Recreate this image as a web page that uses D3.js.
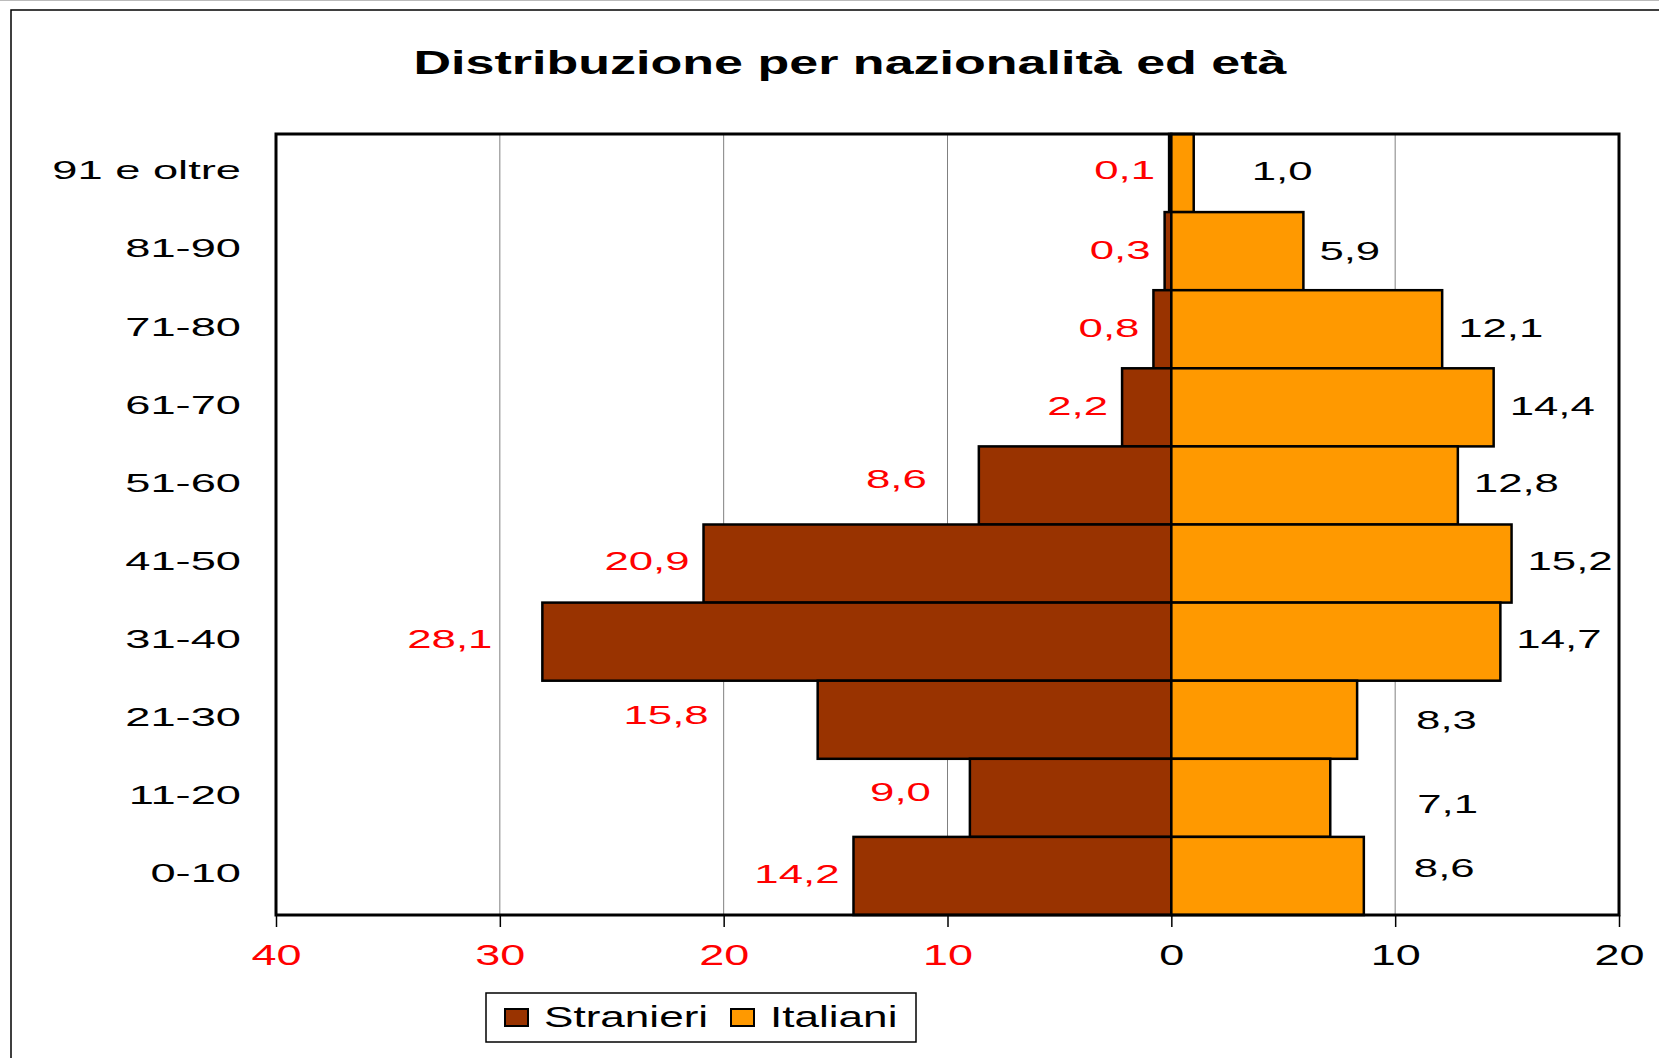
<!DOCTYPE html>
<html>
<head>
<meta charset="utf-8">
<script src="https://cdn.jsdelivr.net/npm/d3@7"></script>
<style>
  body { margin: 0; background: #fff; }
  text { font-family: "Liberation Sans", Arial, sans-serif; }
</style>
</head>
<body>
<svg id="chart"></svg>
<script>
// Chart data
const ageGroups = ["91 e oltre", "81-90", "71-80", "61-70", "51-60", "41-50", "31-40", "21-30", "11-20", "0-10"];
const stranieri = [0.1, 0.3, 0.8, 2.2, 8.6, 20.9, 28.1, 15.8, 9.0, 14.2];
const italiani = [1.0, 5.9, 12.1, 14.4, 12.8, 15.2, 14.7, 8.3, 7.1, 8.6];
const xTicks = [-40, -30, -20, -10, 0, 10, 20];
const seriesNames = ["Stranieri", "Italiani"];

// hand placed label nudges from the original (px)
const strNudgeX = [0, 0, 0, 0, 38, 0, 36, 95, 25, 0];
const strNudgeY = [-2, 0, 0, 0, -5, -1, -1, -3, -4, 0];
const itaNudgeX = [42, 0, 0, 0, 0, 0, 0, 43, 71, 34];
const itaNudgeY = [-1, 1, 0, 0, -1, -1, -1, 2, 8, -6];

const W = 1659, H = 1058;
const colStr = "#993300", colIta = "#ff9900";

const svg = d3.select("#chart").attr("width", W).attr("height", H);

// stretch text horizontally like the original
function stretch(sel, k) {
  sel.each(function() {
    const l = this.getComputedTextLength();
    d3.select(this).attr("textLength", l * k).attr("lengthAdjust", "spacingAndGlyphs");
  });
}

const fmt = v => d3.format(".1f")(v).replace(".", ",");

// outer frame
svg.append("line").attr("x1", 0).attr("x2", W).attr("y1", 0.5).attr("y2", 0.5)
  .attr("stroke", "#bbb").attr("stroke-width", 1);
svg.append("rect").attr("x", 11).attr("y", 10).attr("width", W + 20).attr("height", H + 20)
  .attr("fill", "none").attr("stroke", "#000").attr("stroke-width", 1.5);

// title
svg.append("text")
  .attr("x", 850).attr("y", 74)
  .attr("text-anchor", "middle")
  .attr("font-size", 33).attr("font-weight", "bold")
  .attr("textLength", 873).attr("lengthAdjust", "spacingAndGlyphs")
  .text("Distribuzione per nazionalità ed età");

// scales
const x = d3.scaleLinear().domain([-40, 20]).range([276, 1619]);
const y = d3.scaleBand().domain(ageGroups).range([134, 915]).padding(0);
const plotTop = y.range()[0], plotBottom = y.range()[1];

// gridlines
svg.append("g").selectAll("line")
  .data(xTicks.filter(d => d !== 0 && d !== -40 && d !== 20))
  .enter().append("line")
    .attr("x1", d => x(d)).attr("x2", d => x(d))
    .attr("y1", plotTop).attr("y2", plotBottom)
    .attr("stroke", "#808080").attr("stroke-width", 1);

// bars
svg.append("g").selectAll("rect")
  .data(stranieri)
  .enter().append("rect")
    .attr("x", d => x(-d))
    .attr("y", (d, i) => y(ageGroups[i]))
    .attr("width", d => x(0) - x(-d))
    .attr("height", y.bandwidth())
    .attr("fill", colStr).attr("stroke", "#000").attr("stroke-width", 2.5);

svg.append("g").selectAll("rect")
  .data(italiani)
  .enter().append("rect")
    .attr("x", x(0))
    .attr("y", (d, i) => y(ageGroups[i]))
    .attr("width", d => x(d) - x(0))
    .attr("height", y.bandwidth())
    .attr("fill", colIta).attr("stroke", "#000").attr("stroke-width", 2.5);

// plot border
svg.append("rect")
  .attr("x", x(-40)).attr("y", plotTop)
  .attr("width", x(20) - x(-40)).attr("height", plotBottom - plotTop)
  .attr("fill", "none").attr("stroke", "#000").attr("stroke-width", 3);

// data labels
svg.append("g").selectAll("text")
  .data(stranieri)
  .enter().append("text")
    .attr("x", (d, i) => x(-d) - 14 - strNudgeX[i])
    .attr("y", (d, i) => y(ageGroups[i]) + y.bandwidth() / 2 - 2 + strNudgeY[i])
    .attr("dy", "0.36em")
    .attr("text-anchor", "end")
    .attr("font-size", 26.5).attr("fill", "#ff0000")
    .text(d => fmt(d))
    .call(stretch, 1.65);

svg.append("g").selectAll("text")
  .data(italiani)
  .enter().append("text")
    .attr("x", (d, i) => x(d) + 16 + itaNudgeX[i])
    .attr("y", (d, i) => y(ageGroups[i]) + y.bandwidth() / 2 - 2 + itaNudgeY[i])
    .attr("dy", "0.36em")
    .attr("text-anchor", "start")
    .attr("font-size", 26.5).attr("fill", "#000")
    .text(d => fmt(d))
    .call(stretch, 1.65);

// x axis
const xAxis = svg.append("g")
  .attr("transform", "translate(0," + plotBottom + ")")
  .call(d3.axisBottom(x).tickValues(xTicks).tickSize(12).tickPadding(17).tickFormat(d => Math.abs(d)));
xAxis.select(".domain").remove();
xAxis.selectAll(".tick line").attr("stroke", "#000").attr("stroke-width", 1.5);
xAxis.selectAll(".tick text")
  .attr("font-size", 29).attr("font-family", null)
  .attr("fill", d => d < 0 ? "#ff0000" : "#000")
  .call(stretch, 1.55);

// y axis labels
const yAxis = svg.append("g")
  .attr("transform", "translate(" + x(-40) + ",0)")
  .call(d3.axisLeft(y).tickSize(0).tickPadding(35));
yAxis.select(".domain").remove();
yAxis.selectAll(".tick text")
  .attr("font-size", 25).attr("font-family", null).attr("fill", "#000")
  .attr("dy", "0.25em")
  .call(stretch, 1.81);

// legend
const legend = svg.append("g");
legend.append("rect")
  .attr("x", 486).attr("y", 993).attr("width", 430).attr("height", 49)
  .attr("fill", "#fff").attr("stroke", "#000").attr("stroke-width", 1.5);
const legX = [505, 731];
const legItems = legend.selectAll("g.item")
  .data(seriesNames)
  .enter().append("g").attr("class", "item");
legItems.append("rect")
  .attr("x", (d, i) => legX[i]).attr("y", 1009)
  .attr("width", 23).attr("height", 17)
  .attr("fill", (d, i) => i === 0 ? colStr : colIta)
  .attr("stroke", "#000").attr("stroke-width", 2);
legItems.append("text")
  .attr("x", (d, i) => legX[i] + 39).attr("y", 1027)
  .attr("font-size", 29).attr("fill", "#000")
  .text(d => d)
  .call(stretch, 1.52);
</script>
</body>
</html>
